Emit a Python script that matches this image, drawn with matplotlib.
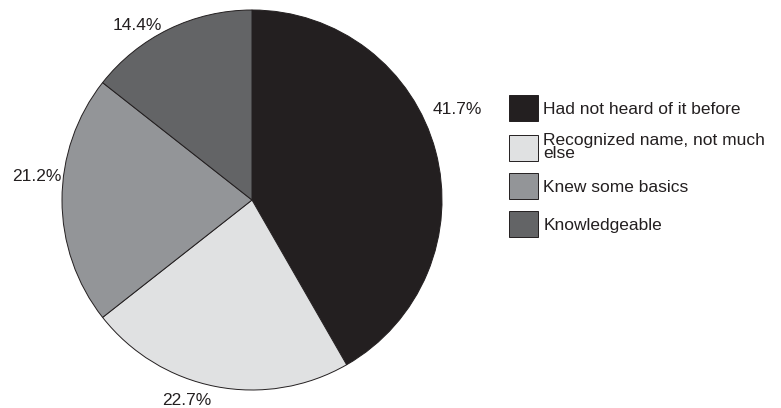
import matplotlib as mpl
mpl.use('Agg')
import matplotlib.pyplot as plt
from matplotlib.patches import Patch

plt.rcParams['font.family'] = ['Liberation Sans', 'DejaVu Sans']

CATEGORIES = ['Had not heard of it before',
              'Recognized name, not much\nelse',
              'Knew some basics',
              'Knowledgeable']
SHARES = [41.7, 22.7, 21.2, 14.4]
COLORS = ['#231f20', '#e0e1e2', '#939598', '#636466']
TEXT_COLOR = '#231f20'

# where the percent labels sit, in pie units (radius = 1)
LABEL_POS = [(1.079, 0.474), (-0.342, -1.053), (-1.132, 0.126),
             (-0.605, 0.921)]

fig = plt.figure(figsize=(7.81, 4.08), dpi=100)
ax = fig.add_axes([62 / 781, 18 / 408, 380 / 781, 380 / 408])

wedges, texts, autotexts = ax.pie(
    SHARES, colors=COLORS, startangle=90, counterclock=False,
    autopct='%1.1f%%', pctdistance=1.12,
    wedgeprops=dict(edgecolor='#231f20', linewidth=0.7),
    textprops=dict(fontsize=12.5, color=TEXT_COLOR))
for t, (x, y) in zip(autotexts, LABEL_POS):
    t.set_position((x, y))
    t.set_ha('center')
    t.set_va('center')
ax.set_xlim(-1, 1)
ax.set_ylim(-1, 1)
ax.set_aspect('equal')

handles = [Patch(facecolor=c, edgecolor='#231f20', linewidth=0.7)
           for c in COLORS]
leg = fig.legend(handles, CATEGORIES, loc='upper left',
                 bbox_to_anchor=(502 / 781, 1 - 88 / 408),
                 frameon=False, fontsize=12.5, handlelength=1.67,
                 handleheight=1.93, handletextpad=0.3, labelspacing=0.68,
                 borderaxespad=0, labelcolor=TEXT_COLOR)
for t in leg.get_texts():
    t.set_linespacing(0.88)

fig.savefig('out.png', dpi=100)
